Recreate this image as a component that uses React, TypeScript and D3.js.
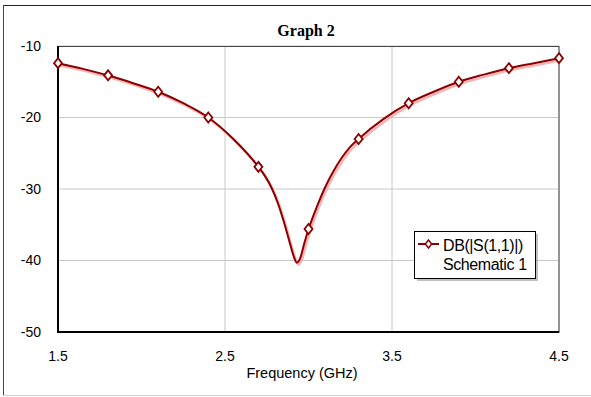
import React, { useEffect, useRef } from "react";
import * as d3 from "d3";

// curve samples (GHz, dB)
const freqs = [1.5, 1.65, 1.8, 1.95, 2.1, 2.25, 2.4, 2.55, 2.7, 2.74, 2.78, 2.82, 2.855, 2.89, 2.91, 2.93, 2.95, 2.975, 3.0, 3.03, 3.06, 3.095, 3.145, 3.2, 3.25, 3.3, 3.45, 3.6, 3.75, 3.9, 4.05, 4.2, 4.35, 4.5];
const s11 = [-12.4, -13.2, -14.1, -15.2, -16.4, -18.0, -20.0, -23.0, -26.9, -28.2, -29.9, -32.2, -34.8, -37.7, -39.3, -40.3, -39.7, -37.6, -35.6, -33.7, -31.9, -30.0, -27.7, -25.6, -24.1, -23.0, -20.2, -18.0, -16.4, -15.0, -14.0, -13.1, -12.4, -11.7];
// marker positions
const markerFreqs = [1.5, 1.8, 2.1, 2.4, 2.7, 3.0, 3.3, 3.6, 3.9, 4.2, 4.5];
const xTicks = [1.5, 2.5, 3.5, 4.5];
const yTicks = [-10, -20, -30, -40, -50];
const title = "Graph 2";
const xLabel = "Frequency (GHz)";
const legendLines = ["DB(|S(1,1)|)", "Schematic 1"];

const W = 591;
const H = 397;
const M = { left: 58, top: 46, right: 559, bottom: 332 };
const RED = "#8b0000";

export default function App() {
  const ref = useRef<SVGSVGElement>(null);

  useEffect(() => {
    const svg = d3.select(ref.current);
    svg.selectAll("*").remove();

    const x = d3.scaleLinear().domain([1.5, 4.5]).range([M.left, M.right]);
    const y = d3.scaleLinear().domain([-50, -10]).range([M.bottom, M.top]);
    const pts = freqs.map((f, i) => [f, s11[i]] as [number, number]);
    const valAt = (f: number) => s11[freqs.indexOf(f)];

    // outer frame
    svg.append("line").attr("x1", 3).attr("x2", 591).attr("y1", 5.5).attr("y2", 5.5).attr("stroke", "#222");
    svg.append("line").attr("x1", 3.5).attr("x2", 3.5).attr("y1", 5).attr("y2", 395).attr("stroke", "#444");
    svg.append("line").attr("x1", 3).attr("x2", 591).attr("y1", 395.5).attr("y2", 395.5).attr("stroke", "#d0d0d0");

    // grid
    const g = svg.append("g");
    g.selectAll(".gx").data(xTicks).join("line")
      .attr("x1", (d) => x(d)).attr("x2", (d) => x(d))
      .attr("y1", M.top).attr("y2", M.bottom)
      .attr("stroke", "#c8c8c8").attr("stroke-width", 1);
    g.selectAll(".gy").data(yTicks).join("line")
      .attr("x1", M.left).attr("x2", M.right)
      .attr("y1", (d) => y(d)).attr("y2", (d) => y(d))
      .attr("stroke", "#c8c8c8").attr("stroke-width", 1);

    // plot frame
    svg.append("rect").attr("x", M.left).attr("y", M.top + 0.5)
      .attr("width", M.right - M.left).attr("height", M.bottom - M.top)
      .attr("fill", "none").attr("stroke", "#444").attr("stroke-width", 1);
    svg.append("line").attr("x1", M.left).attr("x2", M.left).attr("y1", M.top).attr("y2", M.bottom + 1)
      .attr("stroke", "#000").attr("stroke-width", 2);
    svg.append("line").attr("x1", M.left - 1).attr("x2", M.right).attr("y1", M.bottom).attr("y2", M.bottom)
      .attr("stroke", "#000").attr("stroke-width", 2);

    // tick labels
    svg.selectAll(".yl").data(yTicks).join("text")
      .attr("x", 41).attr("y", (d) => y(d)).attr("dy", "0.35em")
      .attr("text-anchor", "end").attr("font-family", "Liberation Sans, Arial, sans-serif")
      .attr("font-size", 14).attr("fill", "#000").text((d) => d);
    svg.selectAll(".xl").data(xTicks).join("text")
      .attr("x", (d) => x(d)).attr("y", 356).attr("dy", "0.35em")
      .attr("text-anchor", "middle").attr("font-family", "Liberation Sans, Arial, sans-serif")
      .attr("font-size", 14).attr("fill", "#000").text((d) => d.toFixed(1));
    svg.append("text").attr("x", 302).attr("y", 373).attr("dy", "0.35em")
      .attr("text-anchor", "middle").attr("font-family", "Liberation Sans, Arial, sans-serif")
      .attr("font-size", 14.5).text(xLabel);
    svg.append("text").attr("x", 306).attr("y", 30).attr("dy", "0.35em")
      .attr("text-anchor", "middle").attr("font-family", "Liberation Serif, Times New Roman, serif")
      .attr("font-weight", "bold").attr("font-size", 16).text(title);

    // curve
    const line = d3.line<[number, number]>()
      .x((d) => x(d[0])).y((d) => y(d[1]))
      .curve(d3.curveMonotoneX);
    const clip = svg.append("clipPath").attr("id", "pc");
    clip.append("rect").attr("x", M.left - 6).attr("y", M.top - 6)
      .attr("width", M.right - M.left + 12).attr("height", M.bottom - M.top + 6);
    const cg = svg.append("g").attr("clip-path", "url(#pc)");
    cg.append("path").datum(pts).attr("d", line)
      .attr("transform", "translate(1.5,2)")
      .attr("fill", "none").attr("stroke", "#f4a0a0").attr("stroke-width", 2.5).attr("opacity", 0.8);
    cg.append("path").datum(pts).attr("d", line)
      .attr("fill", "none").attr("stroke", RED).attr("stroke-width", 2);

    const diamond = "M0,-5L4,0L0,5L-4,0Z";
    cg.selectAll(".mk").data(markerFreqs).join("path")
      .attr("d", diamond)
      .attr("transform", (d) => `translate(${x(d)},${y(valAt(d))})`)
      .attr("fill", "#fff").attr("stroke", RED).attr("stroke-width", 1.8);

    // legend
    const lx = 414, ly = 231, lw = 121, lh = 47;
    svg.append("rect").attr("x", lx + 3).attr("y", ly + 3).attr("width", lw).attr("height", lh)
      .attr("fill", "#9a9a9a").attr("opacity", 0.6);
    svg.append("rect").attr("x", lx + 0.5).attr("y", ly + 0.5).attr("width", lw).attr("height", lh)
      .attr("fill", "#fff").attr("stroke", "#000").attr("stroke-width", 1);
    svg.append("line").attr("x1", lx + 4).attr("x2", lx + 25).attr("y1", ly + 13).attr("y2", ly + 13)
      .attr("stroke", RED).attr("stroke-width", 2);
    svg.append("path").attr("d", diamond).attr("transform", `translate(${lx + 14.5},${ly + 13}) scale(0.8)`)
      .attr("fill", "#fff").attr("stroke", RED).attr("stroke-width", 1.8);
    svg.selectAll(".lg").data(legendLines).join("text")
      .attr("x", lx + 29).attr("y", (d, i) => ly + 20 + i * 19)
      .attr("font-family", "Liberation Sans, Arial, sans-serif").attr("font-size", 16)
      .attr("letter-spacing", -0.4)
      .attr("fill", "#000").text((d) => d);
  }, []);

  return (
    <svg ref={ref} width={W} height={H}
      style={{ position: "absolute", left: 0, top: 0, background: "#fff" }} />
  );
}
